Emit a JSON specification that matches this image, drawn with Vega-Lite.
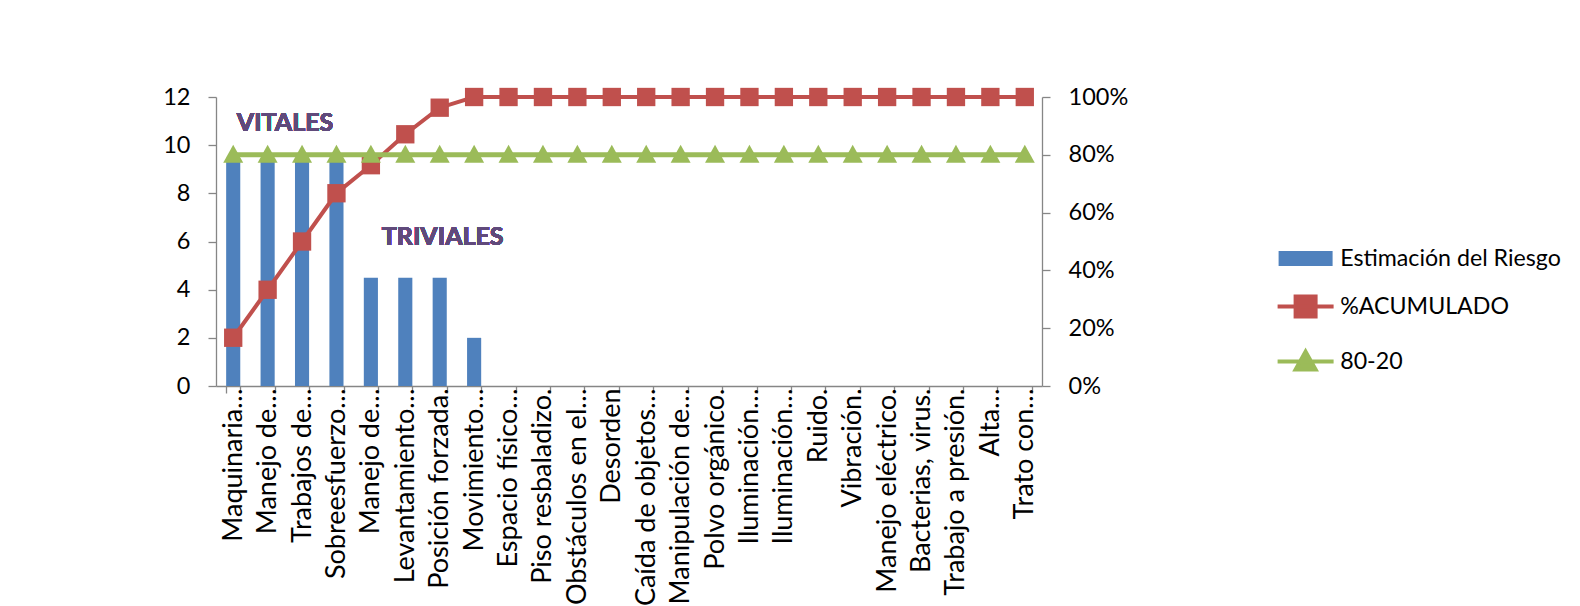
{
  "$schema": "https://vega.github.io/schema/vega-lite/v6.json",
  "width": 826,
  "height": 289,
  "autosize": {"type": "none"},
  "padding": {"left": 216, "top": 97, "right": 538, "bottom": 220},
  "background": "white",
  "config": {
    "view": {"stroke": null},
    "font": "Lato",
    "axis": {"labelFont": "Lato", "labelFontSize": 23.5, "labelColor": "#000000", "domainColor": "#868686", "tickColor": "#868686", "grid": false, "title": null, "domainWidth": 1.3, "tickWidth": 1.3, "labelOverlap": false}
  },
  "data": {
    "values": [
      {"cat": "Maquinaria…", "riesgo": 9.45, "acum": 0.167, "ref": 0.8},
      {"cat": "Manejo de…", "riesgo": 9.45, "acum": 0.333, "ref": 0.8},
      {"cat": "Trabajos de…", "riesgo": 9.45, "acum": 0.5, "ref": 0.8},
      {"cat": "Sobreesfuerzo…", "riesgo": 9.45, "acum": 0.667, "ref": 0.8},
      {"cat": "Manejo de…\u200b", "riesgo": 4.5, "acum": 0.764, "ref": 0.8},
      {"cat": "Levantamiento…", "riesgo": 4.5, "acum": 0.871, "ref": 0.8},
      {"cat": "Posición forzada.", "riesgo": 4.5, "acum": 0.963, "ref": 0.8},
      {"cat": "Movimiento…", "riesgo": 2, "acum": 1, "ref": 0.8},
      {"cat": "Espacio físico…", "riesgo": 0, "acum": 1, "ref": 0.8},
      {"cat": "Piso resbaladizo.", "riesgo": 0, "acum": 1, "ref": 0.8},
      {"cat": "Obstáculos en el…", "riesgo": 0, "acum": 1, "ref": 0.8},
      {"cat": "Desorden", "riesgo": 0, "acum": 1, "ref": 0.8},
      {"cat": "Caída de objetos…", "riesgo": 0, "acum": 1, "ref": 0.8},
      {"cat": "Manipulación de…", "riesgo": 0, "acum": 1, "ref": 0.8},
      {"cat": "Polvo orgánico.", "riesgo": 0, "acum": 1, "ref": 0.8},
      {"cat": "Iluminación…", "riesgo": 0, "acum": 1, "ref": 0.8},
      {"cat": "Iluminación…\u200b", "riesgo": 0, "acum": 1, "ref": 0.8},
      {"cat": "Ruido.", "riesgo": 0, "acum": 1, "ref": 0.8},
      {"cat": "Vibración.", "riesgo": 0, "acum": 1, "ref": 0.8},
      {"cat": "Manejo eléctrico.", "riesgo": 0, "acum": 1, "ref": 0.8},
      {"cat": "Bacterias, virus.", "riesgo": 0, "acum": 1, "ref": 0.8},
      {"cat": "Trabajo a presión.", "riesgo": 0, "acum": 1, "ref": 0.8},
      {"cat": "Alta…", "riesgo": 0, "acum": 1, "ref": 0.8},
      {"cat": "Trato con…", "riesgo": 0, "acum": 1, "ref": 0.8}
    ]
  },
  "encoding": {
    "x": {
      "field": "cat",
      "type": "nominal",
      "sort": null,
      "scale": {"paddingInner": 0.59, "paddingOuter": 0.295},
      "axis": {"labelAngle": -90, "tickBand": "extent", "tickSize": 7, "labelPadding": -5, "labelLimit": 400, "labelFontSize": 27}
    }
  },
  "layer": [
    {
      "layer": [
        {
          "mark": {"type": "bar", "color": "#4F81BD"},
          "encoding": {
            "y": {"field": "riesgo", "type": "quantitative", "scale": {"domain": [0, 12], "nice": false}, "axis": {"values": [0, 2, 4, 6, 8, 10, 12], "tickSize": 8, "labelPadding": 18}},
            "color": {
              "datum": "Estimación del Riesgo",
              "type": "nominal",
              "scale": {"domain": ["Estimación del Riesgo", "%ACUMULADO", "80-20"], "range": ["#4F81BD", "#C0504D", "#9BBB59"]},
              "legend": {
                "orient": "none", "legendX": 1078, "legendY": 150, "title": null, "padding": 0,
                "labelFont": "Lato", "labelFontSize": 23.2, "labelColor": "#000000", "labelOffset": 23, "labelLimit": 400, "rowPadding": 18,
                "symbolSize": 400,
                "encode": {
                  "symbols": {
                    "update": {
                      "shape": {"signal": "datum.value === 'Estimación del Riesgo' ? 'M-2.7,-0.75H2.7V0.75H-2.7Z' : datum.value === '%ACUMULADO' ? 'M-2.8,0H2.8M-1,-1H1V1H-1Z' : 'M-2.8,0H2.8M0,-1L1,0.8H-1Z'"},
                      "fill": {"signal": "datum.value === 'Estimación del Riesgo' ? '#4F81BD' : datum.value === '%ACUMULADO' ? '#C0504D' : '#9BBB59'"},
                      "stroke": {"signal": "datum.value === 'Estimación del Riesgo' ? '#4F81BD' : datum.value === '%ACUMULADO' ? '#C0504D' : '#9BBB59'"},
                      "strokeWidth": {"signal": "datum.value === 'Estimación del Riesgo' ? 0 : 4"},
                      "opacity": {"value": 1},
                      "fillOpacity": {"value": 1},
                      "strokeOpacity": {"value": 1}
                    }
                  }
                }
              }
            }
          }
        },
        {
          "mark": {"type": "text", "text": "VITALES", "font": "Lato", "fontSize": 25, "fontWeight": "bold", "fill": "#604A7B", "stroke": null, "dx": -17},
          "encoding": {"x": {"datum": "Trabajos de…", "type": "nominal"}, "y": {"datum": 10.9, "type": "quantitative"}}
        },
        {
          "mark": {"type": "text", "text": "TRIVIALES", "font": "Lato", "fontSize": 25, "fontWeight": "bold", "fill": "#604A7B", "stroke": null, "dx": 3},
          "encoding": {"x": {"datum": "Posición forzada.", "type": "nominal"}, "y": {"datum": 6.19, "type": "quantitative"}}
        }
      ]
    },
    {
      "layer": [
        {
          "mark": {"type": "line", "strokeWidth": 4, "point": {"shape": "square", "size": 336, "filled": true, "opacity": 1}},
          "encoding": {
            "y": {"field": "acum", "type": "quantitative", "scale": {"domain": [0, 1], "nice": false}, "axis": {"orient": "right", "values": [0, 0.1, 0.2, 0.3, 0.4, 0.5, 0.6, 0.7, 0.8, 0.9, 1], "format": ".0%", "tickSize": 8, "labelPadding": 18}},
            "color": {"datum": "%ACUMULADO", "type": "nominal"}
          }
        },
        {
          "mark": {"type": "line", "strokeWidth": 5, "point": {"shape": "M0,-1L1,0.8H-1Z", "size": 400, "filled": true, "opacity": 1}},
          "encoding": {
            "y": {"field": "ref", "type": "quantitative"},
            "color": {"datum": "80-20", "type": "nominal"}
          }
        }
      ]
    }
  ],
  "resolve": {"scale": {"y": "independent"}}
}
